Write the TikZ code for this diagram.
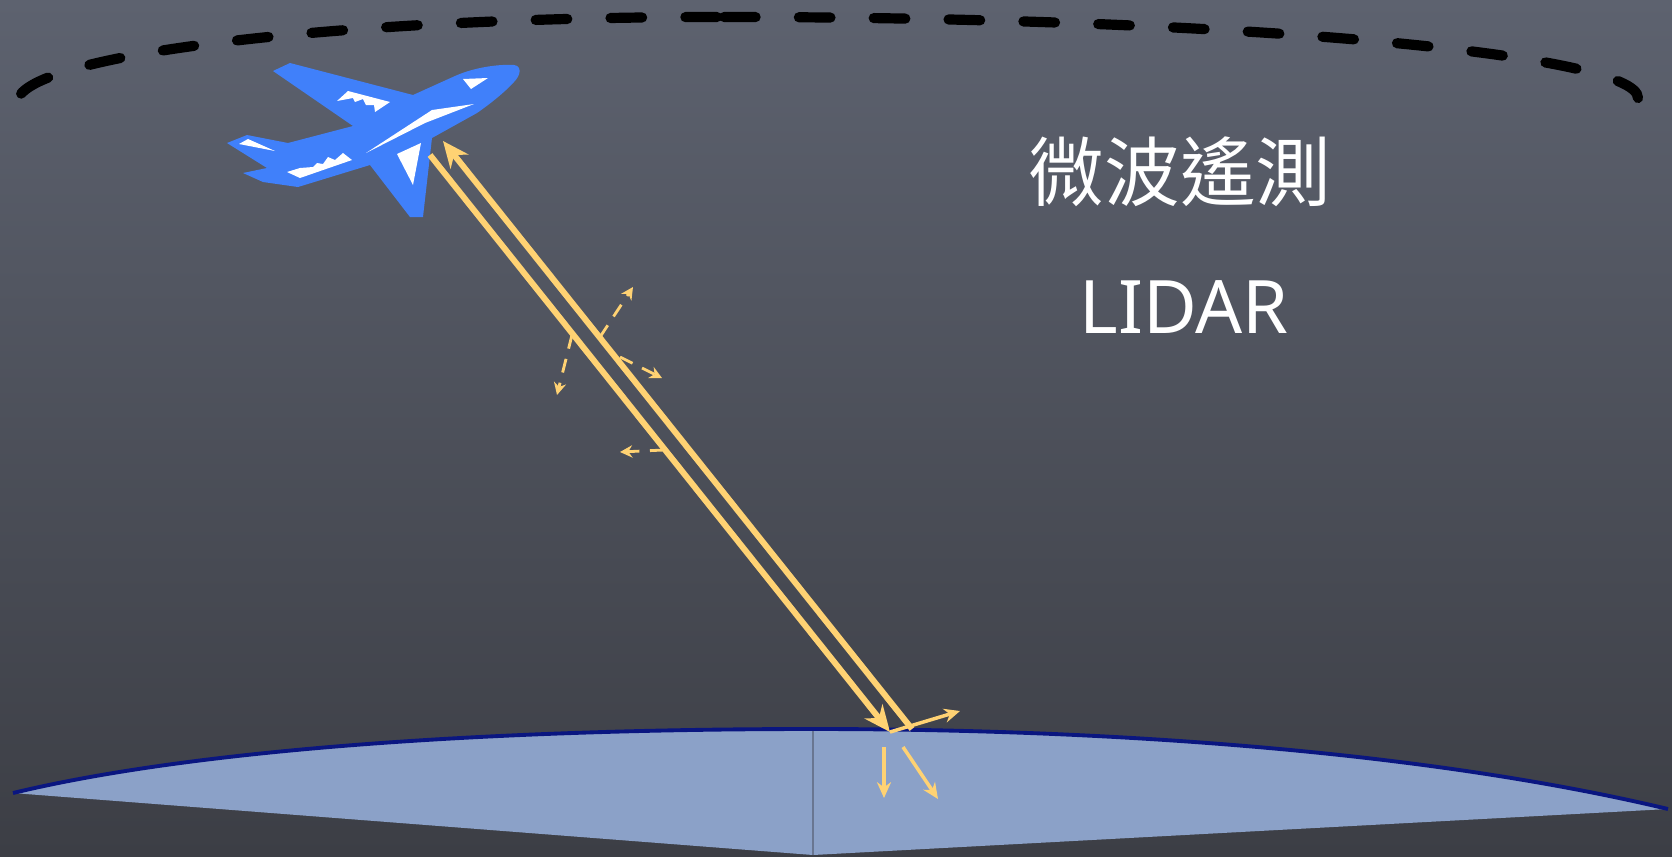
\documentclass[tikz,border=0pt]{standalone}
\usepackage{fontspec}
\newfontfamily\cjkfont{Noto Sans CJK TC}
\newfontfamily\latinfont{Noto Sans}
\usetikzlibrary{arrows.meta}

\definecolor{boardtop}{RGB}{93,98,111}
\definecolor{boardmid}{RGB}{86,91,103}
\definecolor{boardbot}{RGB}{60,62,69}
\definecolor{jet}{RGB}{64,128,250}
\definecolor{beam}{RGB}{255,210,115}
\definecolor{ground}{RGB}{139,161,200}
\definecolor{rim}{RGB}{10,22,128}
\definecolor{seam}{RGB}{105,118,145}

\begin{document}
\begin{tikzpicture}[x=0.1mm,y=-0.1mm,
    ray/.style={beam,line width=1.7pt,-{Stealth[length=7.5pt,width=6.5pt]}},
    subray/.style={beam,line width=1pt,-{Stealth[length=4.5pt,width=4pt]}},
    scatter/.style={beam,line width=0.8pt,dash pattern=on 4pt off 3pt,-{Stealth[length=3.5pt,width=3.5pt]}},
    orbit/.style={line width=2.9pt,line cap=round,dash pattern=on 9pt off 12.3pt},
    label/.style={text=white,inner sep=0pt}]

  \useasboundingbox (0,0) rectangle (1672,856);
  \fill[top color=boardtop,middle color=boardmid,bottom color=boardbot] (0,0) rectangle (1672,856);

  \draw[orbit] (717,17) arc[start angle=-90,end angle=-180,x radius=700,y radius=86];
  \draw[orbit] (724,17) arc[start angle=-90,end angle=0,x radius=914,y radius=81];

  % ground
  \fill[ground] (13,793) .. controls (200,748) and (500,729) .. (813,729)
    .. controls (1150,729) and (1450,757) .. (1668,809) -- (813,855) -- cycle;
  \draw[seam,line width=0.6pt] (813,729) -- (813,855);
  \draw[rim,line width=1.1pt] (13,793) .. controls (200,748) and (500,729) .. (813,729)
    .. controls (1150,729) and (1450,757) .. (1668,809);

  % plane
  \fill[jet] (290,63) -- (413,95) -- (455,76) .. controls (475,67) and (500,64) .. (514,65)
    .. controls (522,66) and (521,75) .. (514,82) .. controls (505,92) and (490,104) .. (477,113)
    -- (432,138) -- (423,217) -- (410,217) -- (370,165) -- (298,187) -- (263,182) -- (243,173)
    -- (267,168) -- (227,143) -- (247,135) -- (288,143) -- (353,126) -- (273,71) -- cycle;
  \begin{scope}[white]
    \fill (463,79) -- (488,78) -- (471,89) -- cycle;
    \fill (366,153) -- (432,110) -- (474,104) -- (425,123) -- cycle;
    \fill (397,154) -- (421,143) -- (413,185) -- cycle;
    \fill (239,144) -- (248,139) -- (275,151) -- cycle;
    \fill (337,101) -- (348,91) -- (390,102) -- (375,112) -- (374,105) -- (366,105)
      -- (363,99) -- (355,102) -- (353,98) -- cycle;
    \fill (287,172) -- (300,178) -- (352,160) -- (343,153) -- (335,160) -- (328,157)
      -- (323,164) -- (317,163) -- (313,167) -- (300,168) -- cycle;
  \end{scope}

  % beams
  \coordinate (tx) at (430,155);
  \coordinate (hit) at (890,732);
  \coordinate (emit) at (912,729);
  \coordinate (rx) at (443,141);
  \coordinate (refl) at (960,711);
  \coordinate (down1) at (884,747);
  \coordinate (down1end) at (884,798);
  \coordinate (down2) at (903,747);
  \coordinate (down2end) at (938,799);
  \draw[ray] (tx) -- (hit);
  \draw[ray] (emit) -- (rx);
  \draw[subray] (hit) -- (refl);
  \draw[subray] (down1) -- (down1end);
  \draw[subray] (down2) -- (down2end);

  % scattering along the way
  \coordinate (sa) at (600,337);
  \coordinate (sb) at (572,335);
  \coordinate (sc) at (620,357);
  \coordinate (sd) at (664,450);
  \draw[scatter] (sa) -- (633,287);
  \draw[scatter] (sb) -- (557,395);
  \draw[scatter] (sc) -- (662,378);
  \draw[scatter] (sd) -- (620,452);

  \node[label,font=\cjkfont\fontsize{21.5}{24}\selectfont] (title) at (1180,172) {微波遙測};
  \node[label,font=\latinfont\fontsize{21}{24}\selectfont] (lidar) at (1184,307) {LIDAR};
\end{tikzpicture}
\end{document}
